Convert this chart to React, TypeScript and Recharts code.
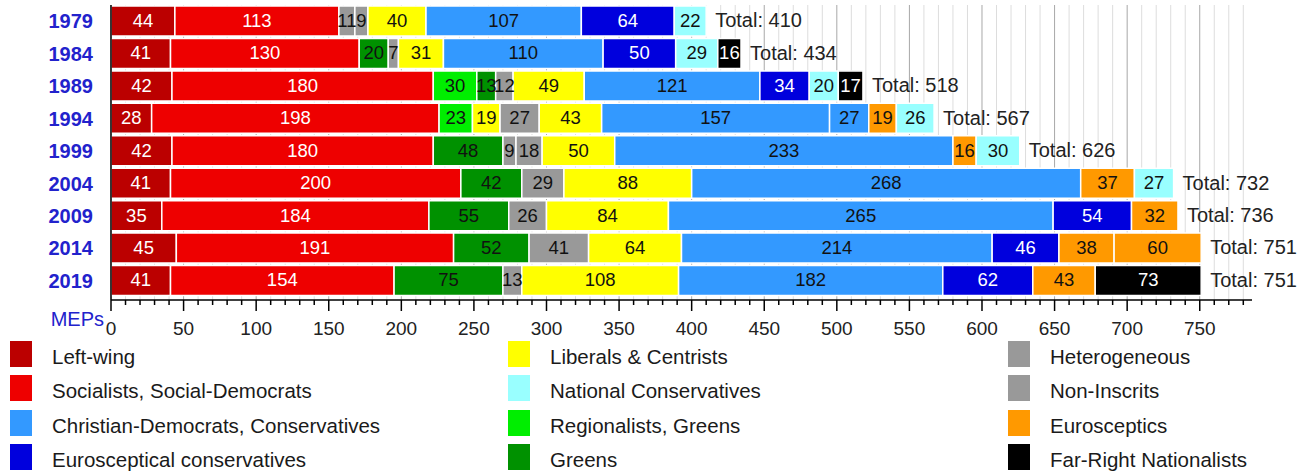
import { BarChart, Bar, XAxis, YAxis, CartesianGrid, Cell, LabelList, Label } from 'recharts';

const FONT = "'Liberation Sans', Arial, sans-serif";

const years = ['1979', '1984', '1989', '1994', '1999', '2004', '2009', '2014', '2019'];
const totals = [410, 434, 518, 567, 626, 732, 736, 751, 751];

// party of each segment, left to right, per election
const rowParties = [
  ['LW', 'SOC', 'HET', 'NI', 'LIB', 'CD', 'EC', 'NC'],
  ['LW', 'SOC', 'GRN', 'NI', 'LIB', 'CD', 'EC', 'NC', 'FR'],
  ['LW', 'SOC', 'REG', 'GRN', 'NI', 'LIB', 'CD', 'EC', 'NC', 'FR'],
  ['LW', 'SOC', 'REG', 'LIB', 'NI', 'LIB', 'CD', 'CD', 'EU', 'NC'],
  ['LW', 'SOC', 'GRN', 'HET', 'NI', 'LIB', 'CD', 'EU', 'NC'],
  ['LW', 'SOC', 'GRN', 'NI', 'LIB', 'CD', 'EU', 'NC'],
  ['LW', 'SOC', 'GRN', 'NI', 'LIB', 'CD', 'EC', 'EU'],
  ['LW', 'SOC', 'GRN', 'NI', 'LIB', 'CD', 'EC', 'EU', 'EU'],
  ['LW', 'SOC', 'GRN', 'NI', 'LIB', 'CD', 'EC', 'EU', 'FR'],
];

// seats of each segment
const rowSeats = [
  [44, 113, 11, 9, 40, 107, 64, 22],
  [41, 130, 20, 7, 31, 110, 50, 29, 16],
  [42, 180, 30, 13, 12, 49, 121, 34, 20, 17],
  [28, 198, 23, 19, 27, 43, 157, 27, 19, 26],
  [42, 180, 48, 9, 18, 50, 233, 16, 30],
  [41, 200, 42, 29, 88, 268, 37, 27],
  [35, 184, 55, 26, 84, 265, 54, 32],
  [45, 191, 52, 41, 64, 214, 46, 38, 60],
  [41, 154, 75, 13, 108, 182, 62, 43, 73],
];

const partyColors: Record<string, string> = {
  LW: '#bb0000',
  SOC: '#ee0000',
  CD: '#3399ff',
  EC: '#0000dd',
  LIB: '#ffff00',
  NC: '#99ffff',
  REG: '#00ee00',
  GRN: '#009100',
  HET: '#999999',
  NI: '#999999',
  EU: '#ff9900',
  FR: '#000000',
};
const whiteText = ['LW', 'SOC', 'EC', 'FR'];

const legendCols = [
  [['LW', 'Left-wing'], ['SOC', 'Socialists, Social-Democrats'], ['CD', 'Christian-Democrats, Conservatives'], ['EC', 'Eurosceptical conservatives']],
  [['LIB', 'Liberals & Centrists'], ['NC', 'National Conservatives'], ['REG', 'Regionalists, Greens'], ['GRN', 'Greens']],
  [['HET', 'Heterogeneous'], ['NI', 'Non-Inscrits'], ['EU', 'Eurosceptics'], ['FR', 'Far-Right Nationalists']],
];

const xMax = 786;
const xTicks = Array.from({ length: 79 }, (_, i) => i * 10);
const SLOTS = 10;

const chartData = years.map((year, i) => {
  const row: Record<string, string | number> = { year, row: i, total: totals[i] };
  for (let k = 0; k < SLOTS; k++) row['s' + k] = rowSeats[i][k] ?? 0;
  return row;
});

const gridGen = (vals: number[]) => ({ xAxis, offset }: any) =>
  vals.map((v) =>
    xAxis && typeof xAxis.scale === 'function' ? xAxis.scale(v) : offset.left + (v / xMax) * offset.width
  );

const XTick = ({ x, y, payload }: any) => {
  const v = payload.value;
  const major = v % 50 === 0;
  return (
    <g>
      <line x1={x} x2={x} y1={y} y2={y + (major ? 11 : 5)} stroke="#000" strokeWidth={1.5} />
      {major && (
        <text x={x} y={y + 30} textAnchor="middle" dominantBaseline="middle" fontSize={19} fill="#222" fontFamily={FONT}>
          {v}
        </text>
      )}
    </g>
  );
};

// label value carries the row index, so the colour and total can be looked up
const segLabel = (k: number) => (p: any) => {
  const { x, y, width, height, value } = p;
  const i = Number(value);
  const seats = rowSeats[i]?.[k];
  if (!seats) return null;
  const party = rowParties[i][k];
  const last = rowSeats[i].length - 1 === k;
  return (
    <g>
      <text
        x={x + width / 2}
        y={y + height / 2 + 1}
        textAnchor="middle"
        dominantBaseline="middle"
        fontSize={18.5}
        fontFamily={FONT}
        fill={whiteText.includes(party) ? '#fff' : '#111'}
      >
        {seats}
      </text>
      {last && (
        <text x={x + width + 9} y={y + height / 2 + 1} dominantBaseline="middle" fontSize={20} fontFamily={FONT} fill="#222">
          {'Total: ' + totals[i]}
        </text>
      )}
    </g>
  );
};

export default function App() {
  return (
    <div style={{ position: 'absolute', left: 0, top: 0, width: 1305, height: 472, background: '#fff', fontFamily: FONT }}>
      <BarChart
        layout="vertical"
        width={1305}
        height={472}
        data={chartData}
        margin={{ top: 5, right: 53, left: 11, bottom: 132 }}
        barSize={30}
      >
        <CartesianGrid horizontal={false} stroke="#dddddd" verticalCoordinatesGenerator={gridGen(xTicks.filter((t) => t % 50 !== 0))} />
        <CartesianGrid horizontal={false} stroke="#a8a8a8" verticalCoordinatesGenerator={gridGen(xTicks.filter((t) => t % 50 === 0))} />
        <XAxis
          type="number"
          domain={[0, xMax]}
          ticks={xTicks}
          interval={0}
          tickSize={0}
          tickMargin={0}
          tickLine={false}
          height={40}
          axisLine={{ stroke: '#000', strokeWidth: 1.5 }}
          tick={<XTick />}
          allowDataOverflow
        >
          <Label
            content={({ viewBox }: any) => (
              <text x={viewBox.x - 7} y={viewBox.y + 21} textAnchor="end" dominantBaseline="middle" fontSize={20} fill="#2222cc" fontFamily={FONT}>
                MEPs
              </text>
            )}
          />
        </XAxis>
        <YAxis
          type="category"
          dataKey="year"
          width={100}
          tickSize={0}
          tickMargin={18}
          tickLine={false}
          padding={{ top: 0, bottom: 3 }}
          axisLine={{ stroke: '#000', strokeWidth: 1.5 }}
          tick={{ fill: '#2222cc', fontSize: 20, fontWeight: 'bold', fontFamily: FONT }}
        />
        {Array.from({ length: SLOTS }, (_, k) => (
          <Bar key={k} dataKey={'s' + k} stackId="a" isAnimationActive={false} stroke="#fff" strokeWidth={1.5}>
            {years.map((_, i) => (
              <Cell key={i} fill={partyColors[rowParties[i][k]] ?? 'none'} />
            ))}
            <LabelList dataKey="row" content={segLabel(k)} />
          </Bar>
        ))}
      </BarChart>
      {legendCols.map((col, c) => (
        <div key={c} style={{ position: 'absolute', left: [10, 508, 1008][c], top: 341 }}>
          {col.map(([key, name]) => (
            <div key={key} style={{ display: 'flex', alignItems: 'center', height: 26, marginBottom: 8.3 }}>
              <div style={{ width: 22, height: 26, background: partyColors[key] }} />
              <span style={{ marginLeft: 20, fontSize: 20.5, color: '#1a1a1a', whiteSpace: 'nowrap', position: 'relative', top: 3 }}>
                {name}
              </span>
            </div>
          ))}
        </div>
      ))}
    </div>
  );
}
